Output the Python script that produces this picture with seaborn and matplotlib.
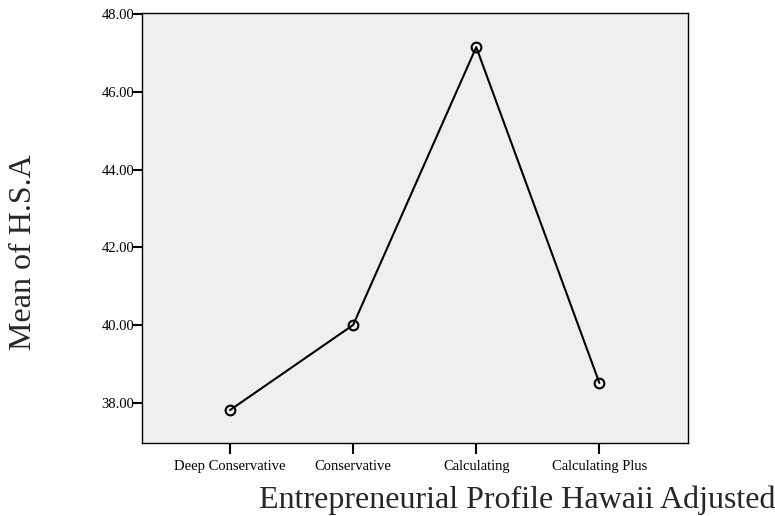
import matplotlib
matplotlib.use("Agg")
import matplotlib.pyplot as plt
import seaborn as sns
import pandas as pd

# Mean of H.S.A per entrepreneurial profile
profiles = ["Deep Conservative", "Conservative", "Calculating", "Calculating Plus"]
means = [37.81, 40.00, 47.15, 38.51]
y_ticks = [38.0, 40.0, 42.0, 44.0, 46.0, 48.0]

df = pd.DataFrame({"profile": profiles, "mean": means})

sns.set_style("white")
plt.rcParams["font.family"] = ["Liberation Serif", "DejaVu Serif"]

fig = plt.figure(figsize=(7.75, 5.16), dpi=100)
ax = fig.add_axes([142 / 775, 1 - 443.3 / 516, (688 - 142) / 775, (443.3 - 13.3) / 516])
ax.set_facecolor("#efefef")

sns.lineplot(
    data=df, x="profile", y="mean", ax=ax, color="black", linewidth=1.5,
    marker="o", markersize=7, markerfacecolor="none",
    markeredgecolor="black", markeredgewidth=1.5, sort=False,
)

ax.set_xlim(-0.715, 3.72)
ax.set_ylim(36.955, 48.02)
ax.set_yticks(y_ticks)
ax.set_yticklabels([f"{v:.2f}" for v in y_ticks])

for s in ax.spines.values():
    s.set_color("black")
    s.set_linewidth(1.0)

ax.tick_params(axis="y", left=True, direction="out", length=6.5, width=1.5,
               pad=-1, labelsize=10.5, colors="black")
ax.tick_params(axis="x", bottom=True, direction="out", length=8, width=1.5,
               pad=4, labelsize=10.5, colors="black")
ax.set_xlabel("")
ax.set_ylabel("")

fig.text(517 / 775, 1 - 508 / 516, "Entrepreneurial Profile Hawaii Adjusted",
         ha="center", va="baseline", fontsize=23)
fig.text(24 / 775, 1 - 252 / 516, "Mean of H.S.A", rotation=90,
         ha="center", va="center", fontsize=23)

fig.savefig("out.png", dpi=100)
